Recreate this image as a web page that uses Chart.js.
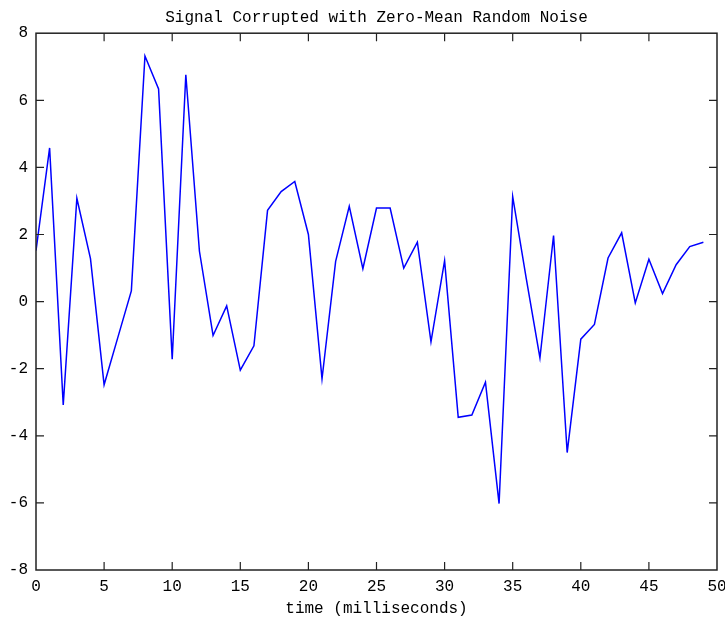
<!DOCTYPE html>
<html>
<head>
<meta charset="utf-8">
<title>Signal Corrupted with Zero-Mean Random Noise</title>
<script src="https://cdn.jsdelivr.net/npm/chart.js@4/dist/chart.umd.min.js"></script>
<style>
  html, body { margin: 0; padding: 0; background: #ffffff; }
  #wrap { width: 725px; height: 621px; position: relative; }
</style>
</head>
<body>
<div id="wrap"><canvas id="plot"></canvas></div>
<script>
// Sample times (ms) and the noisy signal measured at each one
const timesMs = [0, 1, 2, 3, 4, 5, 6, 7, 8, 9,
                 10, 11, 12, 13, 14, 15, 16, 17, 18, 19,
                 20, 21, 22, 23, 24, 25, 26, 27, 28, 29,
                 30, 31, 32, 33, 34, 35, 36, 37, 38, 39,
                 40, 41, 42, 43, 44, 45, 46, 47, 48, 49];
const noisySignal = [1.52, 4.58, -3.08, 3.08, 1.28, -2.48, -1.08, 0.32, 7.32, 6.34,
                     -1.72, 6.76, 1.5, -1.01, -0.13, -2.04, -1.32, 2.72, 3.28, 3.58,
                     2.0, -2.3, 1.2, 2.84, 0.98, 2.79, 2.79, 1.0, 1.77, -1.2,
                     1.22, -3.45, -3.38, -2.4, -6.02, 3.13, 0.68, -1.68, 1.97, -4.5,
                     -1.12, -0.68, 1.3, 2.05, -0.04, 1.26, 0.24, 1.1, 1.64, 1.77];

// Axis ranges and tick spacing
const xRange = [0, 50];
const xStep = 5;
const yRange = [-8, 8];
const yStep = 2;

const titleText = 'Signal Corrupted with Zero-Mean Random Noise';
const xAxisLabel = 'time (milliseconds)';

const monoFont = '"Liberation Mono", "DejaVu Sans Mono", monospace';

// Closed frame with tick marks pointing inward on all four sides
const framePlugin = {
  id: 'frameTicks',
  afterDraw(chart) {
    const { ctx, chartArea: a, scales } = chart;
    const tickLen = 8;
    ctx.save();
    ctx.strokeStyle = '#222';
    ctx.lineWidth = 1.5;
    ctx.strokeRect(a.left, a.top, a.right - a.left, a.bottom - a.top);
    ctx.lineWidth = 1.2;
    ctx.beginPath();
    for (const t of scales.x.ticks) {
      if (t.value <= xRange[0] || t.value >= xRange[1]) continue;
      const px = scales.x.getPixelForValue(t.value);
      ctx.moveTo(px, a.bottom); ctx.lineTo(px, a.bottom - tickLen);
      ctx.moveTo(px, a.top); ctx.lineTo(px, a.top + tickLen);
    }
    for (const t of scales.y.ticks) {
      if (t.value <= yRange[0] || t.value >= yRange[1]) continue;
      const py = scales.y.getPixelForValue(t.value);
      ctx.moveTo(a.left, py); ctx.lineTo(a.left + tickLen, py);
      ctx.moveTo(a.right, py); ctx.lineTo(a.right - tickLen, py);
    }
    ctx.stroke();
    ctx.restore();
  }
};

new Chart(document.getElementById('plot'), {
  type: 'line',
  data: {
    datasets: [{
      data: timesMs.map((t, i) => ({ x: t, y: noisySignal[i] })),
      borderColor: '#0000ff',
      borderWidth: 1.5,
      pointRadius: 0,
      tension: 0,
      fill: false
    }]
  },
  options: {
    responsive: true,
    maintainAspectRatio: false,
    animation: false,
    layout: { padding: { left: 0, right: 8, top: 0, bottom: 0 } },
    plugins: {
      legend: { display: false },
      tooltip: { enabled: false },
      title: {
        display: true,
        fullSize: false,
        text: titleText,
        color: '#000',
        font: { family: monoFont, size: 16, weight: 'normal' },
        padding: { top: 8, bottom: 6 }
      }
    },
    scales: {
      x: {
        type: 'linear',
        min: xRange[0],
        max: xRange[1],
        grid: { display: false, drawTicks: false },
        border: { display: false },
        ticks: {
          stepSize: xStep,
          color: '#000',
          padding: 7,
          maxRotation: 0,
          font: { family: monoFont, size: 16 }
        },
        title: {
          display: true,
          text: xAxisLabel,
          color: '#000',
          font: { family: monoFont, size: 16 },
          padding: { top: 0, bottom: 3 }
        },
        afterFit(scale) {
          scale.height = 51;
          scale.paddingLeft = 0;
          scale.paddingRight = 0;
        }
      },
      y: {
        min: yRange[0],
        max: yRange[1],
        grid: { display: false, drawTicks: false },
        border: { display: false },
        ticks: {
          stepSize: yStep,
          color: '#000',
          padding: 8,
          font: { family: monoFont, size: 16 }
        },
        afterFit(scale) {
          scale.width = 36;
          scale.paddingTop = 0;
          scale.paddingBottom = 0;
        }
      }
    }
  },
  plugins: [framePlugin]
});
</script>
</body>
</html>
